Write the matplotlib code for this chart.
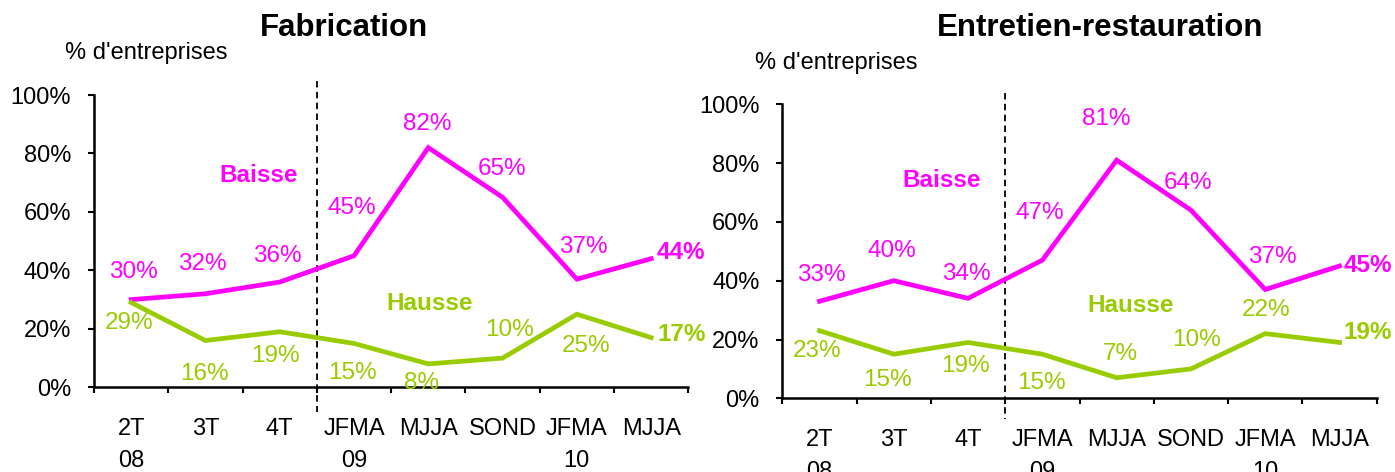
import matplotlib
matplotlib.use("Agg")
import matplotlib.pyplot as plt

plt.rcParams['font.family'] = ['Liberation Sans', 'DejaVu Sans']

# data
categories = ["2T\n08", "3T", "4T", "JFMA\n09", "MJJA", "SOND", "JFMA\n10", "MJJA"]
fab_baisse = [30, 32, 36, 45, 82, 65, 37, 44]
fab_hausse = [29, 16, 19, 15, 8, 10, 25, 17]
ent_baisse = [33, 40, 34, 47, 81, 64, 37, 45]
ent_hausse = [23, 15, 19, 15, 7, 10, 22, 19]
yticks = [0, 20, 40, 60, 80, 100]

MAGENTA = "#FF00FF"
GREEN = "#99CC00"

# label offsets in pixels (dx, dy), dy up positive
fab_b_off = [(2, 28), (-3, 30), (-2, 26), (-2, 48), (-1, 24), (-1, 28), (7, 32), (5, 6)]
fab_h_off = [(-2, -20), (-1, -33), (-4, -24), (-2, -30), (-7, -19), (7, 28), (9, -32), (6, 3)]
ent_b_off = [(2, 26), (-2, 30), (-2, 24), (-3, 47), (-10, 41), (-3, 27), (7, 33), (4, 0)]
ent_h_off = [(-2, -20), (-6, -26), (-3, -24), (-1, -29), (4, 24), (6, 29), (1, 24), (4, 10)]

W, H = 1395, 472
fig = plt.figure(figsize=(W / 100, H / 100), dpi=100)


def px_axes(x0, x1, y_top, y_bot):
    return fig.add_axes([x0 / W, 1 - y_bot / H, (x1 - x0) / W, (y_bot - y_top) / H])


def draw(ax, baisse, hausse, b_off, h_off, baisse_xy, hausse_xy, dash_y):
    x = list(range(len(categories)))
    ax.plot(x, baisse, color=MAGENTA, lw=3.4, solid_joinstyle='miter', clip_on=False, zorder=3)
    ax.plot(x, hausse, color=GREEN, lw=3.4, solid_joinstyle='miter', clip_on=False, zorder=3)
    n = len(x)
    for i in range(n):
        last = i == n - 1
        for vals, offs, col in ((baisse, b_off, MAGENTA), (hausse, h_off, GREEN)):
            ax.annotate("%d%%" % vals[i], (x[i], vals[i]), xytext=offs[i],
                        textcoords='offset pixels', color=col, fontsize=17.5,
                        fontweight='bold' if last else 'normal',
                        ha='left' if last else 'center', va='center',
                        annotation_clip=False)
    ax.text(baisse_xy[0], baisse_xy[1], "Baisse", color=MAGENTA, fontsize=17.5,
            fontweight='bold', ha='center', va='center')
    ax.text(hausse_xy[0], hausse_xy[1], "Hausse", color=GREEN, fontsize=17.5,
            fontweight='bold', ha='center', va='center')
    ax.plot([2.5, 2.5], dash_y, color='black', lw=1.3, ls=(0, (3.6, 2.4)),
            clip_on=False, zorder=2)

    ax.set_xlim(-0.5, n - 0.5)
    ax.set_ylim(0, 100)
    ax.set_yticks(yticks)
    ax.set_yticklabels(["%d%%" % v for v in yticks])
    ax.set_xticks(x)
    ax.set_xticklabels(categories, linespacing=1.62)
    ax.set_xticks([i - 0.5 for i in range(n + 1)], minor=True)
    ax.tick_params(axis='x', which='major', length=0, pad=22, labelsize=17)
    ax.tick_params(axis='x', which='minor', length=4.5, width=1.5, direction='out')
    ax.tick_params(axis='y', length=4.5, width=1.5, pad=12, labelsize=17)
    for s in ('top', 'right'):
        ax.spines[s].set_visible(False)
    for s in ('left', 'bottom'):
        ax.spines[s].set_linewidth(1.8)


ax1 = px_axes(94, 688.3, 95, 387.3)
draw(ax1, fab_baisse, fab_hausse, fab_b_off, fab_h_off, (1.71, 72.6), (4.02, 28.5), [104.8, -8.4])

ax2 = px_axes(782.3, 1376.7, 104.3, 398.3)
draw(ax2, ent_baisse, ent_hausse, ent_b_off, ent_h_off, (1.645, 74.0), (4.19, 31.4), [104.0, -7.0])

fig.text(344 / W, 1 - 28 / H, "Fabrication", fontsize=22.5, fontweight='bold', ha='center', va='center')
fig.text(1100 / W, 1 - 28 / H, "Entretien-restauration", fontsize=22.5, fontweight='bold', ha='center', va='center')
fig.text(65 / W, 1 - 53 / H, "% d'entreprises", fontsize=17, ha='left', va='center')
fig.text(755 / W, 1 - 63 / H, "% d'entreprises", fontsize=17, ha='left', va='center')

fig.savefig("out.png", dpi=100)
